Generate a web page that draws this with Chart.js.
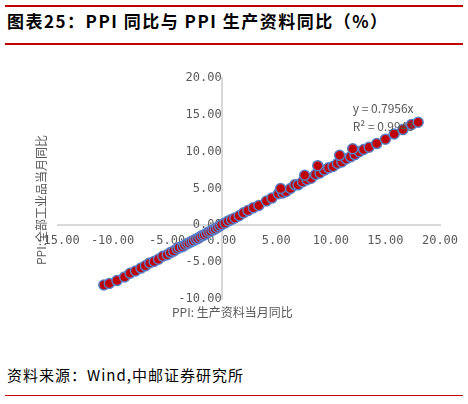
<!DOCTYPE html>
<html>
<head>
<meta charset="utf-8">
<script src="https://cdn.jsdelivr.net/npm/chart.js@4.4.0/dist/chart.umd.min.js"></script>
<style>
  body { margin: 0; width: 468px; height: 404px; background: #fff; position: relative; font-family: "Noto Sans CJK SC", sans-serif; overflow: hidden; }
  .rule { position: absolute; left: 5px; width: 458px; height: 2px; background: #c00000; }
  #title { position: absolute; left: 7px; top: 8px; font-size: 17px; font-weight: bold; color: #000; letter-spacing: 1.5px; }
  #src { position: absolute; left: 7px; top: 364px; font-size: 15px; color: #000; letter-spacing: 1px; }
  #wrap { position: absolute; left: 0; top: 50px; width: 468px; height: 290px; }
</style>
</head>
<body>
<div class="rule" style="top:5px"></div>
<div id="title">图表25：PPI 同比与 PPI 生产资料同比（%）</div>
<div class="rule" style="top:43px"></div>
<div id="wrap"><canvas id="c"></canvas></div>
<div id="src">资料来源：Wind,中邮证券研究所</div>
<div class="rule" style="top:395px;height:1px"></div>
<script>
// ============================================================
// البيانات
// ============================================================
const xVals = [-10.8, -10.3, -9.6, -8.9, -8.4, -7.9, -7.4, -7.0, -6.6, -6.2, -5.8, -5.4, -5.0, -4.7, -4.4, -4.1, -3.9, -3.6, -3.4, -3.2, -3.0, -2.8, -2.6, -2.4, -2.2, -2.0, -1.8, -1.6, -1.4, -1.2, -1.0, -0.8, -0.6, -0.4, -0.2, 0.0, 0.3, 0.6, 0.9, 1.2, 1.6, 2.0, 2.4, 2.9, 3.4, 4.1, 4.6, 5.2, 5.6, 5.9, 6.3, 6.7, 7.0, 7.4, 7.8, 8.2, 8.6, 9.0, 9.4, 9.8, 10.2, 10.6, 11.0, 11.4, 11.8, 12.2, 12.6, 13.0, 13.5, 14.2, 15.0, 15.8, 16.6, 17.4, 18.0, 5.4, 7.6, 8.8, 10.8, 12.0];
const yVals = [-8.1, -7.9, -7.5, -7.0, -6.5, -6.2, -5.8, -5.5, -5.1, -4.9, -4.6, -4.2, -4.0, -3.7, -3.5, -3.2, -3.0, -2.9, -2.7, -2.5, -2.4, -2.2, -2.1, -1.9, -1.8, -1.6, -1.4, -1.3, -1.1, -0.9, -0.8, -0.6, -0.5, -0.3, -0.1, 0.1, 0.3, 0.6, 0.8, 1.0, 1.3, 1.7, 2.0, 2.4, 2.7, 3.3, 3.7, 4.3, 4.4, 4.6, 5.0, 5.5, 5.5, 5.9, 6.2, 6.4, 6.9, 7.1, 7.5, 7.8, 8.0, 8.4, 8.6, 9.0, 9.3, 9.6, 10.0, 10.3, 10.6, 11.1, 11.7, 12.4, 13.0, 13.7, 14.0, 5.0, 6.8, 8.1, 9.5, 10.4];
const slope = 0.7956;
const trendX = [-10.8, 18.2];
const xTicks = [-15, -10, -5, 0, 5, 10, 15, 20];
const yTicks = [-10, -5, 0, 5, 10, 15, 20];

const points = xVals.map((x, i) => ({ x: x, y: yVals[i] }));
const trend = trendX.map(x => ({ x: x, y: slope * x }));

// نصوص إضافية
const extraText = {
    id: 'extraText',
    afterDraw(chart) {
        const { ctx, scales } = chart;
        ctx.save();
        ctx.fillStyle = '#595959';
        ctx.font = '12px "Noto Sans CJK SC"';
        ctx.textAlign = 'left';
        ctx.fillText('y = 0.7956x', scales.x.getPixelForValue(12.0), scales.y.getPixelForValue(15.2));
        ctx.fillText('R² = 0.9943', scales.x.getPixelForValue(12.0), scales.y.getPixelForValue(12.8));
        ctx.fillText('PPI: 生产资料当月同比', 172, 267);
        ctx.translate(46, 150);
        ctx.rotate(-Math.PI / 2);
        ctx.textAlign = 'center';
        ctx.fillText('PPI:全部工业品当月同比', 0, 0);
        ctx.restore();
    }
};

new Chart(document.getElementById('c'), {
    type: 'scatter',
    data: {
        datasets: [{
            data: points,
            backgroundColor: '#c00000',
            borderColor: '#5b7fc7',
            borderWidth: 1.5,
            pointRadius: 5
        }, {
            type: 'line',
            data: trend,
            borderColor: '#c00000',
            borderWidth: 2.5,
            borderDash: [7, 4],
            pointRadius: 0,
            fill: false
        }]
    },
    options: {
        responsive: true,
        maintainAspectRatio: false,
        animation: false,
        layout: { padding: { left: 58, right: 28, top: 28, bottom: 41 } },
        plugins: { legend: { display: false }, tooltip: { enabled: false } },
        scales: {
            x: {
                type: 'linear', min: -15, max: 20,
                position: { y: 0 },
                afterBuildTicks: s => { s.ticks = xTicks.map(v => ({ value: v })); },
                grid: { display: false, drawTicks: false },
                border: { color: '#d9d9d9', width: 2 },
                ticks: { color: '#595959', font: { size: 12, family: 'DejaVu Sans Mono' }, padding: 8, maxRotation: 0, callback: v => v.toFixed(2) }
            },
            y: {
                type: 'linear', min: -10, max: 20,
                position: { x: 0 },
                afterBuildTicks: s => { s.ticks = yTicks.map(v => ({ value: v })); },
                grid: { display: false, drawTicks: false },
                border: { color: '#d9d9d9', width: 2 },
                ticks: { color: '#595959', font: { size: 12, family: 'DejaVu Sans Mono' }, padding: 8, callback: v => v.toFixed(2) }
            }
        }
    },
    plugins: [extraText]
});
</script>
</body>
</html>
